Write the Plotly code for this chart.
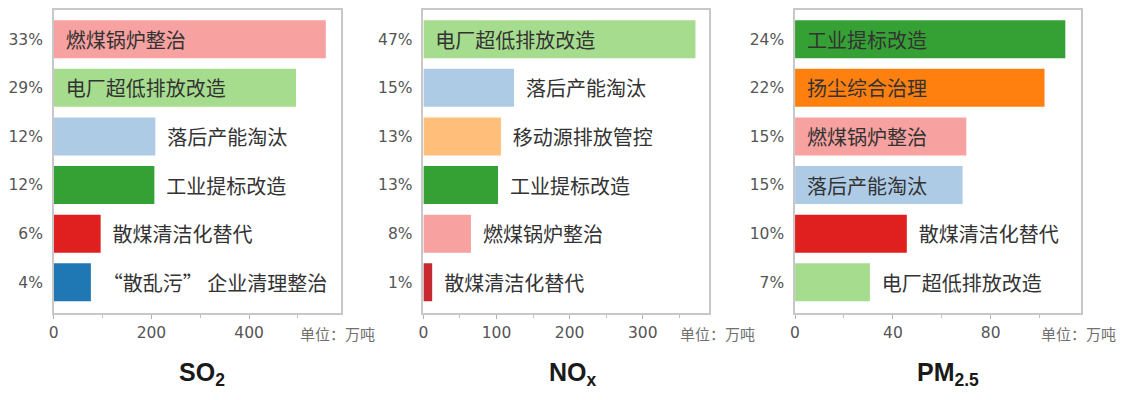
import plotly.graph_objects as go

# SO2
so2_labels = ["燃煤锅炉整治", "电厂超低排放改造", "落后产能淘汰", "工业提标改造", "散煤清洁化替代", "“散乱污” 企业清理整治"]
so2_values = [557, 496, 208, 206, 96, 76]
so2_pct = ["33%", "29%", "12%", "12%", "6%", "4%"]
so2_colors = ["#f7a1a0", "#a6dc8e", "#aecbe6", "#35a135", "#e0201f", "#1f77b4"]

# NOx
nox_labels = ["电厂超低排放改造", "落后产能淘汰", "移动源排放管控", "工业提标改造", "燃煤锅炉整治", "散煤清洁化替代"]
nox_values = [372, 124, 106, 102, 65, 12]
nox_pct = ["47%", "15%", "13%", "13%", "8%", "1%"]
nox_colors = ["#a6dc8e", "#aecbe6", "#ffbe7a", "#35a135", "#f7a1a0", "#c62a30"]

# PM2.5
pm_labels = ["工业提标改造", "扬尘综合治理", "燃煤锅炉整治", "落后产能淘汰", "散煤清洁化替代", "电厂超低排放改造"]
pm_values = [110.5, 102, 70, 68.5, 45.7, 30.6]
pm_pct = ["24%", "22%", "15%", "15%", "10%", "7%"]
pm_colors = ["#35a135", "#ff800e", "#f7a1a0", "#aecbe6", "#e0201f", "#a6dc8e"]

titles = ["<b>SO<sub>2</sub></b>", "<b>NO<sub>x</sub></b>", "<b>PM<sub>2.5</sub></b>"]
x_ranges = [[0, 588], [0, 390], [0, 117]]
x_dticks = [200, 100, 40]
x_minor = [100, 50, 20]

panels = [
    (so2_labels, so2_values, so2_pct, so2_colors),
    (nox_labels, nox_values, nox_pct, nox_colors),
    (pm_labels, pm_values, pm_pct, pm_colors),
]

# page has an 8px body margin, so the figure is 1108x384 and shifted
W, H, OFF = 1108, 384, 8


def px_x(v):
    return min(max((v - OFF) / W, 0), 1)


def px_y(v):
    return min(max(1 - (v - OFF) / H, 0), 1)


x_domains = [[px_x(47), px_x(336)], [px_x(419), px_x(706)], [px_x(793), px_x(1081)]]
y_domain = [px_y(313), px_y(5)]

fig = go.Figure()
layout = {}
for i, (labels, values, pct, colors) in enumerate(panels):
    n = i + 1
    xa = "x" if n == 1 else f"x{n}"
    ya = "y" if n == 1 else f"y{n}"
    pos = list(range(len(values)))
    fig.add_trace(go.Bar(
        x=values, y=pos, orientation="h",
        xaxis=xa, yaxis=ya,
        marker=dict(color=colors, line=dict(width=0)),
        width=0.78,
        text=["\u00a0\u00a0" + t for t in labels],
        textposition="auto",
        insidetextanchor="start",
        textfont=dict(family="Noto Sans CJK SC", size=20, color="#333333"),
        cliponaxis=False,
        showlegend=False,
        hoverinfo="skip",
    ))
    layout["xaxis" if n == 1 else f"xaxis{n}"] = dict(
        domain=x_domains[i], anchor=ya, range=x_ranges[i],
        dtick=x_dticks[i], tick0=0,
        showline=True, mirror=True, linecolor="#c8c8c8", linewidth=1.5,
        showgrid=False, zeroline=False,
        ticks="outside", ticklen=4, tickcolor="#b0b0b0",
        minor=dict(dtick=x_minor[i], ticks="outside", ticklen=3, tickcolor="#c0c0c0"),
        tickfont=dict(family="DejaVu Sans", size=15.5, color="#555555"),
        fixedrange=True,
    )
    layout["yaxis" if n == 1 else f"yaxis{n}"] = dict(
        domain=y_domain, anchor=xa, range=[5.64, -0.6],
        tickvals=pos, ticktext=pct,
        showline=True, mirror=True, linecolor="#c8c8c8", linewidth=1.5,
        showgrid=False, zeroline=False, ticks="",
        ticklabelstandoff=6,
        tickfont=dict(family="DejaVu Sans", size=15.5, color="#555555"),
        fixedrange=True,
    )

annotations = []
title_x = [196, 570, 947]
unit_x = [293, 675, 1039]
for i in range(3):
    annotations.append(dict(
        text=titles[i], xref="paper", yref="paper",
        x=px_x(title_x[i]), y=px_y(374), xanchor="center", yanchor="middle",
        showarrow=False, font=dict(family="Liberation Sans", size=25, color="#1a1a1a"),
    ))
    annotations.append(dict(
        text="单位：万吨", xref="paper", yref="paper",
        x=px_x(unit_x[i]), y=px_y(333), xanchor="left", yanchor="middle",
        showarrow=False, font=dict(family="Noto Sans CJK SC", size=15, color="#707070"),
    ))

fig.update_layout(
    **layout,
    annotations=annotations,
    width=W, height=H,
    margin=dict(l=0, r=0, t=0, b=0),
    paper_bgcolor="white", plot_bgcolor="white",
    bargap=0.2,
)

fig.write_html("out.html", config={"displayModeBar": False})
